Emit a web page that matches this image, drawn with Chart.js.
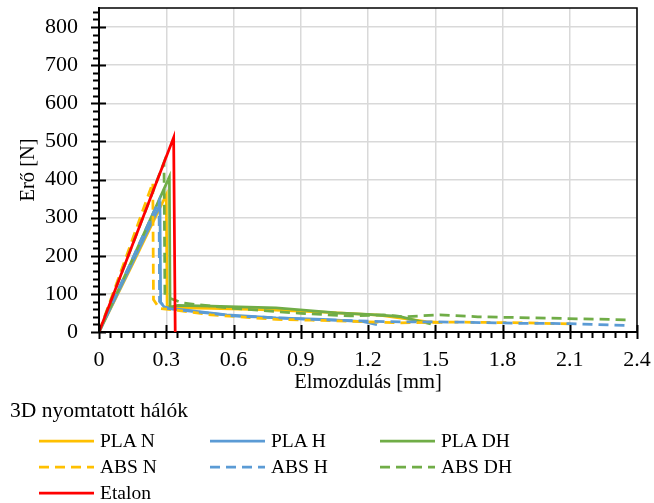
<!DOCTYPE html>
<html>
<head>
<meta charset="utf-8">
<script src="https://cdn.jsdelivr.net/npm/chart.js@4"></script>
<style>
    body { margin: 0; background: #fff; }
    #wrap { position: relative; width: 654px; height: 503px; font-family: "Liberation Serif", "Times New Roman", serif; color: #000; }
    #legendTitle { position: absolute; left: 10px; top: 397px; font-size: 21.5px; line-height: 26px; }
    .item { position: absolute; display: flex; align-items: center; height: 24px; font-size: 19.5px; }
    .item svg { margin-right: 6px; }
</style>
</head>
<body>
<div id="wrap">
    <canvas id="chart" width="654" height="503"></canvas>
    <div id="legendTitle">3D nyomtatott hálók</div>
    <div id="legend"></div>
</div>
<script>
// 読み取った値 (Elmozdulás [mm], Erő [N])
const plaNx = [0, 0.15, 0.300, 0.304, 0.35, 0.50, 0.76, 1.00, 1.25, 1.46, 1.52];
const plaNy = [0, 178, 360, 68, 63, 62, 58, 52, 44, 27, 25];

const plaHx = [0, 0.14, 0.272, 0.275, 0.29, 0.32, 0.57, 0.79, 1.00, 1.18, 1.24];
const plaHy = [0, 170, 333, 78, 66, 62, 45, 37, 33, 27, 19];

const plaDHx = [0, 0.15, 0.314, 0.317, 0.35, 0.50, 0.79, 1.06, 1.20, 1.34, 1.48];
const plaDHy = [0, 192, 407, 65, 70, 68, 63, 50, 46, 41, 21];

const absNx = [0, 0.12, 0.240, 0.243, 0.27, 0.35, 0.50, 0.79, 0.95, 1.34, 1.60, 1.90, 2.11];
const absNy = [0, 195, 392, 85, 62, 57, 45, 33, 31, 24, 26, 24, 21];

const absHx = [0, 0.14, 0.268, 0.270, 0.30, 0.60, 1.00, 1.30, 1.60, 1.86, 2.10, 2.36];
const absHy = [0, 180, 345, 80, 62, 42, 32, 27, 26, 23, 22, 17];

const absDHx = [0, 0.15, 0.290, 0.294, 0.30, 0.375, 0.45, 0.60, 0.90, 1.12, 1.27, 1.36, 1.52, 1.69, 1.86, 2.36];
const absDHy = [0, 230, 445, 95, 92, 76, 71, 62, 49, 42, 45, 40, 45, 40, 38, 32];

const etalonX = [0, 0.333, 0.340];
const etalonY = [0, 510, 0];

// 軸
const xMin = 0, xMax = 2.4, xStep = 0.3;
const yMin = 0, yMax = 850, yStep = 100;
const yTickValues = [0, 100, 200, 300, 400, 500, 600, 700, 800];

const series = [
    { label: "PLA N",  xs: plaNx,   ys: plaNy,   color: "#FFC000", dash: [] },
    { label: "PLA H",  xs: plaHx,   ys: plaHy,   color: "#5B9BD5", dash: [] },
    { label: "PLA DH", xs: plaDHx,  ys: plaDHy,  color: "#70AD47", dash: [] },
    { label: "ABS N",  xs: absNx,   ys: absNy,   color: "#FFC000", dash: [10, 6] },
    { label: "ABS H",  xs: absHx,   ys: absHy,   color: "#5B9BD5", dash: [10, 6] },
    { label: "ABS DH", xs: absDHx,  ys: absDHy,  color: "#70AD47", dash: [10, 6] },
    { label: "Etalon", xs: etalonX, ys: etalonY, color: "#FF0000", dash: [] }
];

Chart.defaults.font.family = '"Liberation Serif", "Times New Roman", serif';
Chart.defaults.color = "#000";

// 枠線と目盛り (主・補助)
const axisMarks = {
    id: "axisMarks",
    afterDraw(chart) {
        const { ctx, chartArea: a, scales: { x, y } } = chart;
        ctx.save();
        ctx.strokeStyle = "#000";
        ctx.lineWidth = 1.5;
        ctx.beginPath();
        ctx.moveTo(a.left, a.top);
        ctx.lineTo(a.right, a.top);
        ctx.lineTo(a.right, a.bottom);
        ctx.stroke();

        ctx.lineWidth = 2;
        ctx.beginPath();
        for (let i = 0; i * 20 <= yMax; i++) {
            const py = Math.round(y.getPixelForValue(i * 20)) + 0.5;
            if (i % 5 === 0) {
                ctx.moveTo(a.left - 8, py);
                ctx.lineTo(a.left + 7, py);
            } else {
                ctx.moveTo(a.left - 6, py);
                ctx.lineTo(a.left, py);
            }
        }
        for (let i = 0; i <= 48; i++) {
            const px = Math.round(x.getPixelForValue(i * 0.05)) + 0.5;
            if (i % 6 === 0) {
                ctx.moveTo(px, a.bottom - 7);
                ctx.lineTo(px, a.bottom + 7);
            } else {
                ctx.moveTo(px, a.bottom);
                ctx.lineTo(px, a.bottom + 6);
            }
        }
        ctx.stroke();
        ctx.restore();
    }
};

new Chart(document.getElementById("chart"), {
    type: "scatter",
    data: {
        datasets: series.map((s, i) => ({
            label: s.label,
            data: s.xs.map((v, k) => ({ x: v, y: s.ys[k] })),
            showLine: true,
            borderColor: s.color,
            backgroundColor: s.color,
            borderWidth: 2.75,
            borderDash: s.dash,
            pointRadius: 0,
            tension: 0,
            order: series.length - i
        }))
    },
    options: {
        responsive: false,
        animation: false,
        layout: { padding: { top: 8, right: 17, bottom: 108, left: 0 } },
        plugins: { legend: { display: false }, tooltip: { enabled: false } },
        scales: {
            x: {
                type: "linear",
                min: xMin,
                max: xMax,
                afterFit: s => { s.height = 63; s.paddingLeft = 0; s.paddingRight = 0; },
                ticks: {
                    stepSize: xStep,
                    padding: 15,
                    font: { size: 22 },
                    callback: v => (Math.abs(v) < 1e-9 ? "0" : v.toFixed(1))
                },
                grid: { color: "#d9d9d9", lineWidth: 1.5, drawTicks: false },
                border: { color: "#000", width: 2 },
                title: { display: true, text: "Elmozdulás [mm]", font: { size: 20.5 }, padding: { top: 0, bottom: 0 } }
            },
            y: {
                min: yMin,
                max: yMax,
                afterFit: s => { s.width = 99; s.paddingTop = 0; s.paddingBottom = 0; },
                afterBuildTicks: s => { s.ticks = yTickValues.map(v => ({ value: v })); },
                ticks: { stepSize: yStep, padding: 21, font: { size: 22 } },
                grid: { color: "#d9d9d9", lineWidth: 1.5, drawTicks: false },
                border: { color: "#000", width: 2 },
                title: { display: true, text: "Erő [N]", font: { size: 20.5 }, padding: { top: 16, bottom: 0 } }
            }
        }
    },
    plugins: [axisMarks]
});

// 凡例 (3列)
const legend = document.getElementById("legend");
const colLeft = [39, 210, 380];
const rowTop = [429, 455, 481];
series.forEach((s, i) => {
    const item = document.createElement("div");
    item.className = "item";
    item.style.left = colLeft[i % 3] + "px";
    item.style.top = rowTop[Math.floor(i / 3)] + "px";
    const dash = s.dash.length ? `stroke-dasharray="${s.dash.join(" ")}"` : "";
    item.innerHTML = `<svg width="55" height="6"><line x1="0" y1="3" x2="55" y2="3" stroke="${s.color}" stroke-width="2.75" ${dash}/></svg><span>${s.label}</span>`;
    legend.appendChild(item);
});
</script>
</body>
</html>
